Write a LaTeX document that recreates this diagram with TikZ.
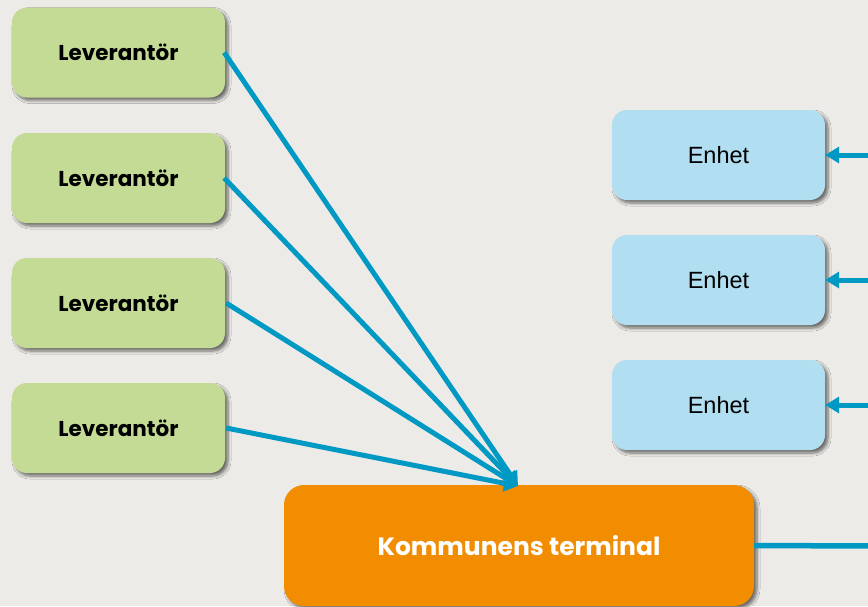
\documentclass[tikz,border=0pt]{standalone}
\usepackage{fontspec}
\setmainfont{Liberation Sans}
\newfontfamily\popfont{Poppins}
\usetikzlibrary{arrows.meta,shadows.blur}
\definecolor{bgc}{HTML}{EDEBE7}
\definecolor{grn}{HTML}{C3DB94}
\definecolor{blu}{HTML}{B1DEF0}
\definecolor{org}{HTML}{F28C00}
\definecolor{lnc}{HTML}{0099C4}
\tikzset{
  shadowed/.style={blur shadow={shadow xshift=3pt,shadow yshift=-3pt,shadow blur steps=6,shadow opacity=55,shadow blur radius=3pt}},
  levbox/.style={shadowed,fill=grn,rounded corners=15pt,minimum width=213pt,minimum height=90pt,inner sep=0pt,font=\popfont\bfseries\fontsize{21.5}{24}\selectfont},
  enhbox/.style={shadowed,fill=blu,rounded corners=15pt,minimum width=213pt,minimum height=90pt,inner sep=0pt,font=\fontsize{23.5}{26}\selectfont},
  termbox/.style={shadowed,fill=org,rounded corners=20pt,minimum width=470pt,minimum height=121pt,inner sep=0pt,text=white,font=\popfont\bfseries\fontsize{25}{28}\selectfont},
  conn/.style={draw=lnc,line width=5pt,-{Triangle[length=14pt,width=16pt]}},
  plain/.style={draw=lnc,line width=5.5pt}
}
\begin{document}
\begin{tikzpicture}[x=1pt,y=-1pt]
\fill[bgc] (0,0) rectangle (868,606);
\useasboundingbox (0,0) rectangle (868,606);
\node[levbox] (g1) at (118.5,52.5) {Leverantör};
\node[levbox] (g2) at (118.5,178) {Leverantör};
\node[levbox] (g3) at (118.5,303) {Leverantör};
\node[levbox] (g4) at (118.5,428) {Leverantör};
\node[enhbox] (b1) at (718.5,155) {Enhet};
\node[enhbox] (b2) at (718.5,280) {Enhet};
\node[enhbox] (b3) at (718.5,405) {Enhet};
\node[termbox] (t) at (519,545.5) {Kommunens terminal};
\coordinate (tip) at (518,486);
\coordinate (r1) at (872,155);
\coordinate (r2) at (872,280);
\coordinate (r3) at (872,405);
\coordinate (r4) at (872,546);
\draw[conn] ([xshift=-1pt]g1.east) -- (tip);
\draw[conn] ([xshift=-1pt]g2.east) -- (tip);
\draw[conn] ([xshift=1pt]g3.east) -- (tip);
\draw[conn] ([xshift=1pt]g4.east) -- (tip);
\draw[conn] (r1) -- (b1.east);
\draw[conn] (r2) -- (b2.east);
\draw[conn] (r3) -- (b3.east);
\draw[plain] (t.east) -- (r4);
\end{tikzpicture}
\end{document}
